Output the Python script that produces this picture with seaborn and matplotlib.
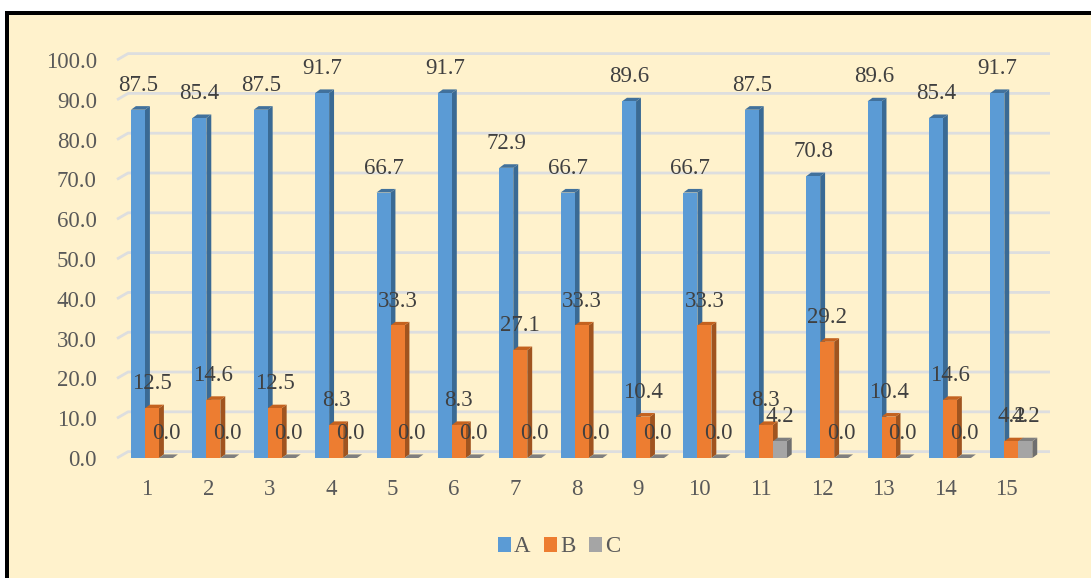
import matplotlib
matplotlib.use("Agg")
import matplotlib.pyplot as plt
import matplotlib.transforms as mtrans
from matplotlib.patches import Polygon, Rectangle
import pandas as pd
import seaborn as sns

categories = [str(i) for i in range(1, 16)]
series_a = [87.5, 85.4, 87.5, 91.7, 66.7, 91.7, 72.9, 66.7, 89.6, 66.7, 87.5, 70.8, 89.6, 85.4, 91.7]
series_b = [12.5, 14.6, 12.5, 8.3, 33.3, 8.3, 27.1, 33.3, 10.4, 33.3, 8.3, 29.2, 10.4, 14.6, 4.2]
series_c = [0.0, 0.0, 0.0, 0.0, 0.0, 0.0, 0.0, 0.0, 0.0, 0.0, 4.2, 0.0, 0.0, 0.0, 4.2]
y_ticks = [0, 10, 20, 30, 40, 50, 60, 70, 80, 90, 100]

# front, side and top colours of the fake 3d bars
front = {"A": "#5B9BD5", "B": "#ED7D31", "C": "#A5A5A5"}
side = {"A": "#3A6A94", "B": "#A0541F", "C": "#6F6F6F"}
top = {"A": "#41719C", "B": "#C4621F", "C": "#7F7F7F"}

bg = "#FFF2CC"
W, H = 1091, 578

sns.set_theme(style="white")
plt.rcParams["font.family"] = ["Liberation Serif", "DejaVu Serif"]

df = pd.DataFrame({"cat": categories, "A": series_a, "B": series_b, "C": series_c})
long_df = df.melt(id_vars="cat", var_name="series", value_name="value")

fig = plt.figure(figsize=(W / 100, H / 100), dpi=100, facecolor="white")

# cream panel with black top and left edge
fig.add_artist(Rectangle((7 / W, 0), 1, (H - 12.5) / H, transform=fig.transFigure,
                         facecolor=bg, edgecolor="none", zorder=-5))
fig.add_artist(Rectangle((5 / W, 0), 4 / W, (H - 11) / H, transform=fig.transFigure,
                         facecolor="black", edgecolor="none", zorder=-4))
fig.add_artist(Rectangle((5 / W, (H - 15) / H), 1, 4 / H, transform=fig.transFigure,
                         facecolor="black", edgecolor="none", zorder=-4))

ax = fig.add_axes([117 / W, (H - 458) / H, (1050 - 117) / W, (458 - 52) / H])
ax.patch.set_alpha(0)

sns.barplot(data=long_df, x="cat", y="value", hue="series", palette=front,
            width=0.684, gap=0, saturation=1, linewidth=0, ax=ax, zorder=3, legend=True)

ax.set_xlim(-0.57, 14.63)
ax.set_ylim(0, 102)
sns.despine(ax=ax, left=True, bottom=True, top=True, right=True)
ax.set_xlabel("")
ax.set_ylabel("")

# wall grid, pushed back a little with a short slanted bit on the left
x0, x1 = ax.get_xlim()
for v in y_ticks:
    ax.plot([x0, x0 + 0.18, x1], [v, v + 1.6, v + 1.6], color="#DDDEDF", lw=2,
            zorder=1, clip_on=False, solid_capstyle="butt")

# depth faces from the bars seaborn drew
dx, dy = 0.08, 0.9
for cont, name in zip(ax.containers, ["A", "B", "C"]):
    for bar in cont:
        xl = bar.get_x()
        xr = xl + bar.get_width()
        h = bar.get_height()
        ax.add_patch(Polygon([(xr, 0), (xr + dx, dy), (xr + dx, h + dy), (xr, h)],
                             facecolor=side[name], edgecolor="none", zorder=2.9, clip_on=False))
        ax.add_patch(Polygon([(xl, h), (xl + dx, h + dy), (xr + dx, h + dy), (xr, h)],
                             facecolor=top[name], edgecolor="none", zorder=2.9, clip_on=False))
    ax.bar_label(cont, fmt="%.1f", padding=10, fontsize=16.5, color="#404040", zorder=5)

ax.set_yticks(y_ticks, [f"{v:.1f}" for v in y_ticks])
ax.tick_params(axis="y", length=0, pad=14.5, labelsize=16.5, labelcolor="#595959")
ax.tick_params(axis="x", length=0, pad=15, labelsize=16.5, labelcolor="#595959")
shift = mtrans.ScaledTranslation(-5 / 100, 0, fig.dpi_scale_trans)
for lab in ax.get_xticklabels():
    lab.set_transform(lab.get_transform() + shift)

handles, labels = ax.get_legend_handles_labels()
ax.legend(handles, labels, loc="center", bbox_to_anchor=(559 / W, (H - 547) / H),
          bbox_transform=fig.transFigure, ncol=3, frameon=False, fontsize=16.5,
          handlelength=0.58, handleheight=0.58, handletextpad=0.12, columnspacing=0.6,
          labelcolor="#595959")

fig.savefig("out.png", dpi=100)
